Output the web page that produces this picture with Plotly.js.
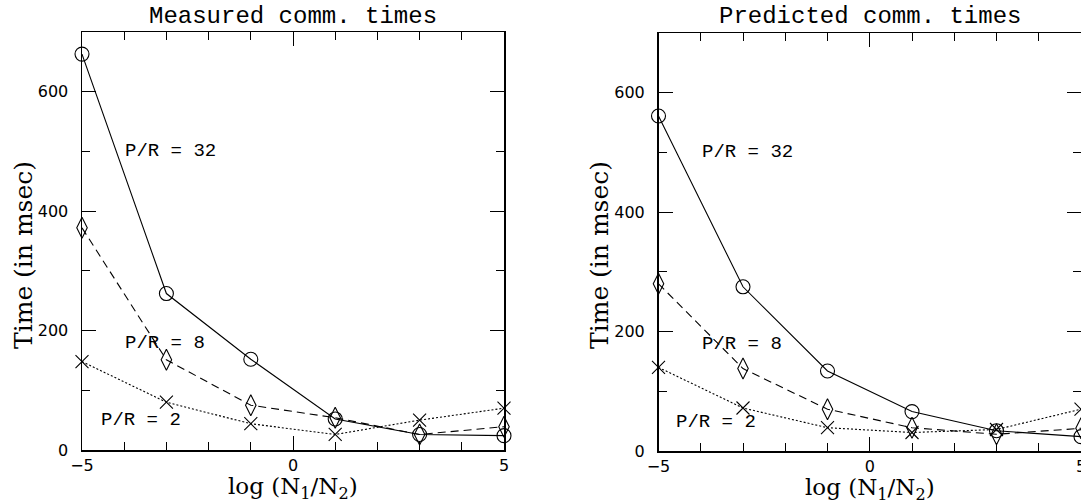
<!DOCTYPE html>
<html>
<head>
<meta charset="utf-8">
<script src="https://cdn.plot.ly/plotly-3.0.1.min.js"></script>
<style>html,body{margin:0;padding:0;background:#fff;}#chart{width:1081px;height:504px;}</style>
</head>
<body>
<div id="chart"></div>
<script>
// x positions: log(N1/N2)
const logRatio = [-5, -3, -1, 1, 3, 5];

// Measured communication times (msec)
const measuredPR32 = [663, 262, 152, 52, 26, 24];
const measuredPR8  = [372, 151, 75, 54, 26, 39];
const measuredPR2  = [148, 80, 44, 26, 50, 70];

// Predicted communication times (msec)
const predictedPR32 = [561, 275, 134, 66, 34, 24];
const predictedPR8  = [280, 138, 70, 39, 28, 38];
const predictedPR2  = [140, 72, 39, 31, 36, 70];

const panelTitles = ["Measured comm. times", "Predicted comm. times"];
const seriesLabels = ["P/R = 32", "P/R = 8", "P/R = 2"];
const yTickVals = [0, 200, 400, 600];
const xTickVals = [-5, 0, 5];

function series(x, y, xa, ya, dash, symbol, size) {
  return {
    x: x, y: y, xaxis: xa, yaxis: ya, type: 'scatter', mode: 'lines+markers',
    line: {color: '#000', width: 1.1, dash: dash},
    marker: {symbol: symbol, size: size, color: '#000', line: {color: '#000', width: 1.1}},
    showlegend: false, cliponaxis: false, hoverinfo: 'x+y'
  };
}

const data = [
  series(logRatio, measuredPR32, 'x', 'y', 'solid', 'circle-open', 14),
  series(logRatio, measuredPR8, 'x', 'y', '8px,5px', 'diamond-tall-open', 15),
  series(logRatio, measuredPR2, 'x', 'y', '2px,2px', 'x-thin-open', 13),
  series(logRatio, predictedPR32, 'x2', 'y2', 'solid', 'circle-open', 14),
  series(logRatio, predictedPR8, 'x2', 'y2', '8px,5px', 'diamond-tall-open', 15),
  series(logRatio, predictedPR2, 'x2', 'y2', '2px,2px', 'x-thin-open', 13)
];

const tickFont = {family: 'DejaVu Sans', size: 16, color: '#000'};
function xaxis(domain, anchor) {
  return {
    domain: domain, anchor: anchor, range: [-5, 5], tickvals: xTickVals,
    ticks: 'inside', ticklen: 14, tickwidth: 1, tickcolor: '#000',
    showline: true, linecolor: '#000', linewidth: 1.5, mirror: 'ticks',
    showgrid: false, zeroline: false, tickfont: tickFont, ticklabeloverflow: 'allow',
    minor: {dtick: 1, tick0: 0, ticks: 'inside', ticklen: 8, tickwidth: 1, tickcolor: '#000', showgrid: false},
    fixedrange: true
  };
}
function yaxis(domain, anchor) {
  return {
    domain: domain, anchor: anchor, range: [0, 700], tickvals: yTickVals,
    ticks: 'inside', ticklen: 14, tickwidth: 1, tickcolor: '#000',
    showline: true, linecolor: '#000', linewidth: 1.5, mirror: 'ticks',
    showgrid: false, zeroline: false, tickfont: tickFont, ticklabelstandoff: 9,
    minor: {dtick: 100, tick0: 0, ticks: 'inside', ticklen: 8, tickwidth: 1, tickcolor: '#000', showgrid: false},
    fixedrange: true
  };
}

const titleFont = {family: 'Liberation Mono', size: 24, color: '#000'};
const axisTitleFont = {family: 'DejaVu Serif', size: 23, color: '#000'};
const labelFont = {family: 'Liberation Mono', size: 19, color: '#000'};

const annotations = [];
const xTitleY = [488, 489];
['x', 'x2'].forEach((xa, i) => {
  annotations.push({text: panelTitles[i], xref: xa + ' domain', yref: 'paper', x: 0.5, y: 1 - 16/504,
    xanchor: 'center', yanchor: 'middle', showarrow: false, font: titleFont, borderpad: 0});
  annotations.push({text: 'log (N<sub>1</sub>/N<sub>2</sub>)', xref: xa + ' domain', yref: 'paper', x: 0.5, y: 1 - xTitleY[i]/504,
    xanchor: 'center', yanchor: 'middle', showarrow: false, font: axisTitleFont, borderpad: 0});
});
annotations.push({text: 'Time (in msec)', xref: 'paper', yref: 'paper', x: 23/1081, y: 1 - 255/504,
  textangle: -90, xanchor: 'center', yanchor: 'middle', showarrow: false,
  font: {family: 'DejaVu Serif', size: 25, color: '#000'}, borderpad: 0});
annotations.push({text: 'Time (in msec)', xref: 'paper', yref: 'paper', x: 599/1081, y: 1 - 255/504,
  textangle: -90, xanchor: 'center', yanchor: 'middle', showarrow: false,
  font: {family: 'DejaVu Serif', size: 25, color: '#000'}, borderpad: 0});

// series labels (data positions)
const labelPos = [
  {xa: 'x', ya: 'y', x: [-4.0, -4.0, -4.58], y: [501, 180, 50]},
  {xa: 'x2', ya: 'y2', x: [-4.0, -4.0, -4.62], y: [501, 180, 49]}
];
labelPos.forEach(p => {
  seriesLabels.forEach((t, k) => {
    annotations.push({text: t, xref: p.xa, yref: p.ya, x: p.x[k], y: p.y[k],
      xanchor: 'left', yanchor: 'middle', showarrow: false, font: labelFont, borderpad: 0});
  });
});

const layout = {
  width: 1081, height: 504,
  margin: {l: 0, r: 0, t: 0, b: 0},
  paper_bgcolor: '#fff', plot_bgcolor: '#fff',
  xaxis: xaxis([82/1081, 504/1081], 'y'),
  yaxis: yaxis([(504-450)/504, (504-32)/504], 'x'),
  xaxis2: xaxis([658.5/1081, 1], 'y2'),
  yaxis2: yaxis([(504-451)/504, (504-33)/504], 'x2'),
  annotations: annotations,
  showlegend: false
};

Plotly.newPlot('chart', data, layout, {displayModeBar: false, staticPlot: true});
</script>
</body>
</html>
